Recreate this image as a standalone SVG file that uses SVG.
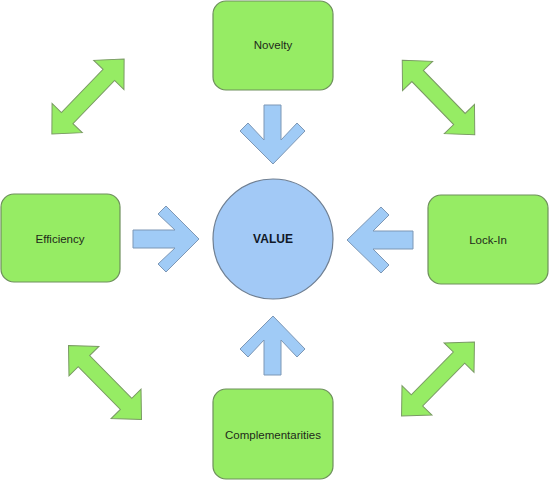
<svg xmlns="http://www.w3.org/2000/svg" width="549" height="480" viewBox="0 0 549 480">
<defs>
<style>
.box{fill:#96ec64;stroke:#6e8f5c;stroke-width:1.2}
.lbl{font-family:"Liberation Sans",Arial,sans-serif;font-size:11.5px;fill:#1e2a1a;text-anchor:middle;dominant-baseline:central}
.circ{fill:#a2c9f6;stroke:#6f7f92;stroke-width:1.2}
.val{font-family:"Liberation Sans",Arial,sans-serif;font-size:12px;font-weight:bold;fill:#101828;text-anchor:middle;dominant-baseline:central}
.blue{fill:#a0cbf6;stroke:#7d97b5;stroke-width:1}
.green{fill:#96ec64;stroke:#7a9a64;stroke-width:1}
</style>
<polygon id="dbl" points="-52,0 -30,-21 -30,-8 30,-8 30,-21 52,0 30,21 30,8 -30,8 -30,21"/>
</defs>
<rect width="549" height="480" fill="#ffffff"/>
<g id="connectors">
<polygon class="blue" points="264,105 281,105 281,140 297,123 305,131 273,164 240,131 248,123 264,140"/>
<polygon class="blue" points="264,375 281,375 281,340 297,357 305,349 273,316 240,349 248,357 264,340"/>
<polygon class="blue" points="133,230 175,230 158,214 166,206 199,239 166,272 158,264 175,248 133,248"/>
<polygon class="blue" points="413,231 373,231 389,215 381,207 347,240 381,273 389,265 373,249 413,249"/>
<use href="#dbl" class="green" transform="translate(88,96.5) rotate(-46)"/>
<use href="#dbl" class="green" transform="translate(438.5,97.5) rotate(45.8)"/>
<use href="#dbl" class="green" transform="translate(105,382.5) rotate(45.4)"/>
<use href="#dbl" class="green" transform="translate(438,379) rotate(-45.5)"/>
</g>
<g id="novelty"><rect class="box" x="213" y="1" width="120" height="89" rx="13"/><text class="lbl" x="273" y="45">Novelty</text></g>
<g id="efficiency"><rect class="box" x="1" y="194" width="119" height="88" rx="13"/><text class="lbl" x="60" y="239">Efficiency</text></g>
<g id="lockin"><rect class="box" x="428" y="195" width="120" height="89" rx="13"/><text class="lbl" x="488" y="240">Lock-In</text></g>
<g id="complementarities"><rect class="box" x="213" y="389" width="120" height="90" rx="13"/><text class="lbl" x="273" y="435">Complementarities</text></g>
<g id="value"><circle class="circ" cx="273" cy="239" r="60"/><text class="val" x="273" y="239">VALUE</text></g>
</svg>
